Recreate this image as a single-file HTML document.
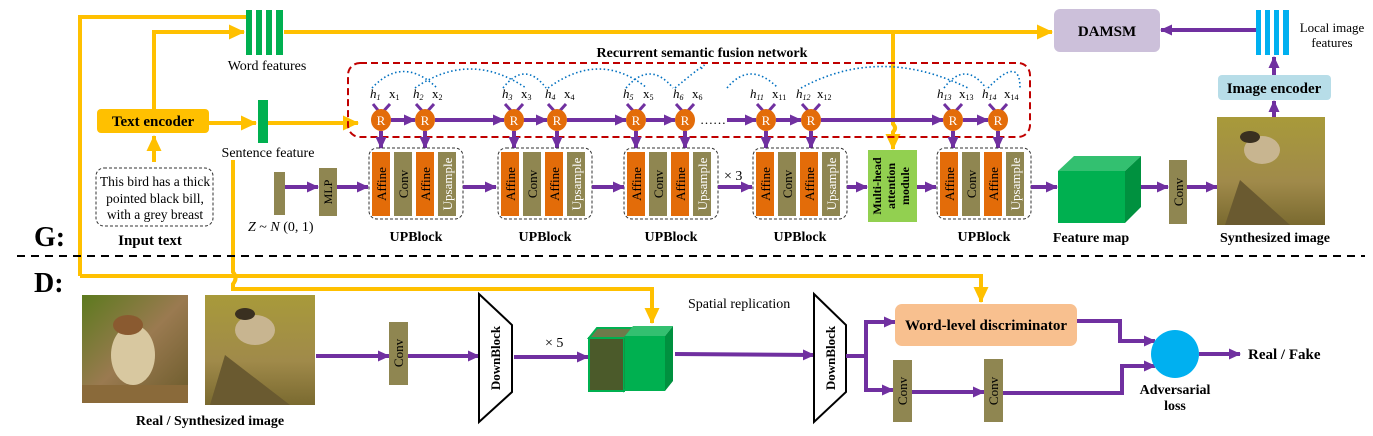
<!DOCTYPE html>
<html><head><meta charset="utf-8"><style>
html,body{margin:0;padding:0;background:#fff;}
svg{display:block;font-family:"Liberation Serif",serif;}
.b{font-weight:bold;}
</style></head><body>
<svg width="1373" height="436" viewBox="0 0 1373 436" xmlns="http://www.w3.org/2000/svg">
<defs>
<marker id="pa" markerWidth="12" markerHeight="11" refX="11" refY="5.5" orient="auto" markerUnits="userSpaceOnUse" viewBox="0 0 12 11"><path d="M0,0L12,5.5L0,11z" fill="#7030a0"/></marker>
<marker id="ya" markerWidth="16" markerHeight="15" refX="15" refY="7.5" orient="auto" markerUnits="userSpaceOnUse" viewBox="0 0 16 15"><path d="M0,0L16,7.5L0,15z" fill="#ffc000"/></marker>
<linearGradient id="g1" x1="0" y1="0" x2="1" y2="1"><stop offset="0" stop-color="#5c7a1e"/><stop offset="0.5" stop-color="#9a7a50"/><stop offset="1" stop-color="#6a5a2a"/></linearGradient>
<linearGradient id="g2" x1="0" y1="0" x2="0" y2="1"><stop offset="0" stop-color="#a89a3a"/><stop offset="0.6" stop-color="#a08a4a"/><stop offset="1" stop-color="#7a6a30"/></linearGradient>
</defs>
<style>
.pl{stroke:#7030a0;stroke-width:4;fill:none;}
.yl{stroke:#ffc000;stroke-width:4;fill:none;}
.ol{fill:#8f8651;}
.or{fill:#e36c09;}
</style>

<!-- yellow lines -->
<path class="yl" d="M80,276 L80,17 L246,17"/>
<path class="yl" d="M154,109 L154,32 L244,32" marker-end="url(#ya)"/>
<path class="yl" d="M284,32 L1052,32" marker-end="url(#ya)"/>
<path class="yl" d="M893,32 L893,124 Q897,128 893,132 L893,149" marker-end="url(#ya)"/>
<path class="yl" d="M154,162 L154,136" marker-end="url(#ya)"/>
<path class="yl" d="M209,123 L256,123" marker-end="url(#ya)"/>
<path class="yl" d="M268,123 L358,123" marker-end="url(#ya)"/>
<path class="yl" d="M80,276 L981,276 L981,302" marker-end="url(#ya)"/>
<path class="yl" d="M233,160 L233,272 Q238,278 233,284 L233,289 L652,289 L652,323" marker-end="url(#ya)"/>

<!-- word features -->
<g fill="#00b050"><rect x="246" y="10" width="6" height="45"/><rect x="256" y="10" width="6" height="45"/><rect x="266" y="10" width="6" height="45"/><rect x="276" y="10" width="7" height="45"/></g>
<text x="267" y="70" font-size="14" text-anchor="middle">Word features</text>
<rect x="258" y="100" width="10" height="43" fill="#00b050"/>
<text x="268" y="157" font-size="14" text-anchor="middle">Sentence feature</text>
<rect x="97" y="109" width="112" height="24" rx="4" fill="#ffc000"/>
<text x="153" y="126" font-size="15" class="b" text-anchor="middle">Text encoder</text>
<rect x="96" y="168" width="117" height="58" rx="8" fill="none" stroke="#333" stroke-dasharray="3,2"/>
<text font-size="13.5" text-anchor="middle"><tspan x="155" y="186">This bird has a thick</tspan><tspan x="155" y="203">pointed black bill,</tspan><tspan x="155" y="219">with a grey breast</tspan></text>
<text x="150" y="245" font-size="15" class="b" text-anchor="middle">Input text</text>
<text x="34" y="246" font-size="28" class="b">G:</text>

<!-- Z, MLP -->
<rect x="274" y="172" width="11" height="43" class="ol"/>
<text x="248" y="231" font-size="14"><tspan font-style="italic">Z</tspan> ~ <tspan font-style="italic">N</tspan> (0, 1)</text>
<path class="pl" d="M285,187 L318,187" marker-end="url(#pa)"/>
<rect x="319" y="168" width="18" height="48" class="ol"/>
<text transform="translate(332,192) rotate(-90)" font-size="12" text-anchor="middle">MLP</text>
<path class="pl" d="M337,187 L368,187" marker-end="url(#pa)"/>

<!-- RSFN -->
<text x="702" y="57" font-size="14" class="b" text-anchor="middle">Recurrent semantic fusion network</text>
<rect x="348" y="63" width="682" height="74" rx="12" fill="none" stroke="#c00000" stroke-width="2" stroke-dasharray="7,4"/>
<g fill="none" stroke="#0070c0" stroke-width="1.6" stroke-dasharray="1.5,2.5">
<path d="M372,88 Q403,55 437,88"/><path d="M415,88 Q470,50 526,88"/>
<path d="M503,88 Q525,60 546,88"/><path d="M548,88 Q600,50 647,88"/>
<path d="M626,88 Q650,60 673,88"/><path d="M675,88 Q715,55 700,70"/>
<path d="M727,88 Q750,60 778,88"/><path d="M801,88 Q880,45 968,88"/>
<path d="M944,88 Q965,60 986,88"/><path d="M988,88 Q1020,55 1020,88"/>
</g>
<g font-size="13">
<text x="370" y="98" font-style="italic">h<tspan font-size="8" dy="2">1</tspan></text><text x="389" y="98">x<tspan font-size="8" dy="2">1</tspan></text>
<text x="413" y="98" font-style="italic">h<tspan font-size="8" dy="2">2</tspan></text><text x="432" y="98">x<tspan font-size="8" dy="2">2</tspan></text>
<text x="502" y="98" font-style="italic">h<tspan font-size="8" dy="2">3</tspan></text><text x="521" y="98">x<tspan font-size="8" dy="2">3</tspan></text>
<text x="545" y="98" font-style="italic">h<tspan font-size="8" dy="2">4</tspan></text><text x="564" y="98">x<tspan font-size="8" dy="2">4</tspan></text>
<text x="623" y="98" font-style="italic">h<tspan font-size="8" dy="2">5</tspan></text><text x="643" y="98">x<tspan font-size="8" dy="2">5</tspan></text>
<text x="673" y="98" font-style="italic">h<tspan font-size="8" dy="2">6</tspan></text><text x="692" y="98">x<tspan font-size="8" dy="2">6</tspan></text>
<text x="750" y="98" font-style="italic">h<tspan font-size="8" dy="2">11</tspan></text><text x="772" y="98">x<tspan font-size="8" dy="2">11</tspan></text>
<text x="796" y="98" font-style="italic">h<tspan font-size="8" dy="2">12</tspan></text><text x="817" y="98">x<tspan font-size="8" dy="2">12</tspan></text>
<text x="937" y="98" font-style="italic">h<tspan font-size="8" dy="2">13</tspan></text><text x="959" y="98">x<tspan font-size="8" dy="2">13</tspan></text>
<text x="982" y="98" font-style="italic">h<tspan font-size="8" dy="2">14</tspan></text><text x="1004" y="98">x<tspan font-size="8" dy="2">14</tspan></text>
</g>
<g stroke="#7030a0" stroke-width="3">
<path d="M373,104L381,114M390,104L381,114M416,104L425,114M434,104L425,114"/>
<path d="M505,104L514,114M523,104L514,114M548,104L557,114M566,104L557,114"/>
<path d="M627,104L636,114M645,104L636,114M676,104L685,114M694,104L685,114"/>
<path d="M757,104L766,114M775,104L766,114M802,104L811,114M820,104L811,114"/>
<path d="M944,104L953,114M962,104L953,114M989,104L998,114M1007,104L998,114"/>
</g>
<g class="pl">
<path d="M391,120L415,120" marker-end="url(#pa)"/><path d="M435,120L504,120" marker-end="url(#pa)"/>
<path d="M567,120L626,120" marker-end="url(#pa)"/><path d="M523,120L547,120" marker-end="url(#pa)"/>
<path d="M646,120L675,120" marker-end="url(#pa)"/><path d="M727,120L756,120" marker-end="url(#pa)"/>
<path d="M776,120L801,120" marker-end="url(#pa)"/><path d="M821,120L943,120" marker-end="url(#pa)"/>
<path d="M963,120L988,120" marker-end="url(#pa)"/>
</g>
<text x="700" y="124" font-size="13">……</text>
<g fill="#e36c09">
<ellipse cx="381" cy="120" rx="10" ry="11"/><ellipse cx="425" cy="120" rx="10" ry="11"/>
<ellipse cx="514" cy="120" rx="10" ry="11"/><ellipse cx="557" cy="120" rx="10" ry="11"/>
<ellipse cx="636" cy="120" rx="10" ry="11"/><ellipse cx="685" cy="120" rx="10" ry="11"/>
<ellipse cx="766" cy="120" rx="10" ry="11"/><ellipse cx="811" cy="120" rx="10" ry="11"/>
<ellipse cx="953" cy="120" rx="10" ry="11"/><ellipse cx="998" cy="120" rx="10" ry="11"/>
</g>
<g fill="#fff" font-size="13" text-anchor="middle">
<text x="381" y="125">R</text><text x="425" y="125">R</text><text x="514" y="125">R</text><text x="557" y="125">R</text>
<text x="636" y="125">R</text><text x="685" y="125">R</text><text x="766" y="125">R</text><text x="811" y="125">R</text>
<text x="953" y="125">R</text><text x="998" y="125">R</text>
</g>
<g class="pl" stroke-width="3">
<path d="M381,131L381,148" marker-end="url(#pa)"/><path d="M425,131L425,148" marker-end="url(#pa)"/>
<path d="M514,131L514,148" marker-end="url(#pa)"/><path d="M557,131L557,148" marker-end="url(#pa)"/>
<path d="M636,131L636,148" marker-end="url(#pa)"/><path d="M685,131L685,148" marker-end="url(#pa)"/>
<path d="M766,131L766,148" marker-end="url(#pa)"/><path d="M811,131L811,148" marker-end="url(#pa)"/>
<path d="M953,131L953,148" marker-end="url(#pa)"/><path d="M998,131L998,148" marker-end="url(#pa)"/>
</g>

<!-- UPBlocks -->
<g id="ub">
<rect x="369" y="148" width="94" height="71" rx="8" fill="none" stroke="#333" stroke-dasharray="3,2"/>
<rect x="372" y="152" width="18" height="64" class="or"/>
<rect x="394" y="152" width="18" height="64" class="ol"/>
<rect x="416" y="152" width="18" height="64" class="or"/>
<rect x="438" y="152" width="18" height="64" class="ol"/>
<g font-size="13" text-anchor="middle">
<text transform="translate(386,184) rotate(-90)">Affine</text>
<text transform="translate(408,184) rotate(-90)">Conv</text>
<text transform="translate(430,184) rotate(-90)">Affine</text>
<text transform="translate(452,184) rotate(-90)" fill="#fff">Upsample</text>
</g>
<text x="416" y="241" font-size="14" class="b" text-anchor="middle">UPBlock</text>
</g>
<use href="#ub" x="129"/><use href="#ub" x="255"/><use href="#ub" x="384"/><use href="#ub" x="568"/>
<g class="pl">
<path d="M463,187L496,187" marker-end="url(#pa)"/><path d="M592,187L624,187" marker-end="url(#pa)"/>
<path d="M718,187L752,187" marker-end="url(#pa)"/><path d="M847,187L867,187" marker-end="url(#pa)"/>
<path d="M917,187L936,187" marker-end="url(#pa)"/><path d="M1031,187L1057,187" marker-end="url(#pa)"/>
<path d="M1125,187L1168,187" marker-end="url(#pa)"/><path d="M1187,187L1217,187" marker-end="url(#pa)"/>
</g>
<text x="724" y="180" font-size="14">× 3</text>
<rect x="868" y="150" width="49" height="72" fill="#92d050"/>
<g font-size="12" class="b" text-anchor="middle">
<text transform="translate(881,186) rotate(-90)">Multi-head</text>
<text transform="translate(895,186) rotate(-90)">attention</text>
<text transform="translate(909,186) rotate(-90)">module</text>
</g>

<!-- feature map -->
<path d="M1058,171 L1074,156 L1141,156 L1125,171z" fill="#33c070"/>
<path d="M1125,171 L1141,156 L1141,207 L1125,223z" fill="#00913f"/>
<rect x="1058" y="171" width="67" height="52" fill="#00b050"/>
<text x="1091" y="242" font-size="14" class="b" text-anchor="middle">Feature map</text>
<rect x="1169" y="160" width="18" height="64" class="ol"/>
<text transform="translate(1183,192) rotate(-90)" font-size="13" text-anchor="middle">Conv</text>
<rect x="1217" y="117" width="108" height="108" fill="url(#g2)"/>
<ellipse cx="1262" cy="150" rx="18" ry="14" fill="#c8b590"/>
<ellipse cx="1250" cy="137" rx="10" ry="6" fill="#3a3020"/>
<path d="M1225,225 L1240,180 L1290,225z" fill="#6a5a30"/>
<text x="1275" y="242" font-size="14" class="b" text-anchor="middle">Synthesized image</text>
<path class="pl" d="M1274,117L1274,101" marker-end="url(#pa)"/>
<rect x="1218" y="75" width="113" height="25" rx="4" fill="#b7dde8"/>
<text x="1274" y="93" font-size="15" class="b" text-anchor="middle">Image encoder</text>
<path class="pl" d="M1274,75L1274,57" marker-end="url(#pa)"/>
<g fill="#00b0f0"><rect x="1256" y="10" width="5" height="45"/><rect x="1265" y="10" width="5" height="45"/><rect x="1274" y="10" width="5" height="45"/><rect x="1283" y="10" width="6" height="45"/></g>
<text x="1332" y="32" font-size="13" text-anchor="middle">Local image</text>
<text x="1332" y="47" font-size="13" text-anchor="middle">features</text>
<path class="pl" d="M1256,30L1161,30" marker-end="url(#pa)"/>
<rect x="1054" y="9" width="106" height="43" rx="6" fill="#ccc0da"/>
<text x="1107" y="36" font-size="15" class="b" text-anchor="middle">DAMSM</text>

<!-- separator -->
<line x1="17" y1="256" x2="1365" y2="256" stroke="#000" stroke-width="2" stroke-dasharray="8,6"/>
<text x="34" y="292" font-size="28" class="b">D:</text>

<!-- D -->
<rect x="82" y="295" width="106" height="108" fill="url(#g1)"/>
<ellipse cx="133" cy="355" rx="22" ry="30" fill="#d8c8a0"/>
<ellipse cx="128" cy="325" rx="15" ry="10" fill="#8a5a30"/>
<rect x="82" y="385" width="106" height="18" fill="#8a6a3a"/>
<rect x="205" y="295" width="110" height="110" fill="url(#g2)"/>
<ellipse cx="255" cy="330" rx="20" ry="15" fill="#c8b590"/>
<ellipse cx="245" cy="314" rx="10" ry="6" fill="#3a3020"/>
<path d="M210,405 L225,355 L290,405z" fill="#6a5a30"/>
<text x="210" y="425" font-size="14" class="b" text-anchor="middle">Real / Synthesized image</text>
<path class="pl" d="M316,356L389,356" marker-end="url(#pa)"/>
<rect x="389" y="322" width="19" height="63" class="ol"/>
<text transform="translate(403,353) rotate(-90)" font-size="13" text-anchor="middle">Conv</text>
<path class="pl" d="M408,356L479,356" marker-end="url(#pa)"/>
<path d="M479,294 L512,325 L512,392 L479,422z" fill="#fff" stroke="#000" stroke-width="2"/>
<text transform="translate(500,358) rotate(-90)" font-size="13" class="b" text-anchor="middle">DownBlock</text>
<path class="pl" d="M514,357L588,357" marker-end="url(#pa)"/>
<text x="545" y="347" font-size="14">× 5</text>
<path d="M589,338 L597,328 L633,328 L625,338z" fill="#6e7a4a" stroke="#00b050" stroke-width="2"/>
<rect x="589" y="338" width="35" height="53" fill="#4b5a2a" stroke="#00b050" stroke-width="2"/>
<path d="M624,338 L633,328 L633,382 L624,391z" fill="#3d4a20" stroke="#00b050" stroke-width="1.5"/>
<path d="M625,336 L633,326 L673,326 L665,336z" fill="#33c070"/>
<rect x="625" y="336" width="40" height="55" fill="#00b050"/>
<path d="M665,336 L673,326 L673,381 L665,391z" fill="#00913f"/>
<text x="688" y="308" font-size="14">Spatial replication</text>
<path class="pl" d="M675,354L814,355" marker-end="url(#pa)"/>
<path d="M814,294 L846,325 L846,392 L814,422z" fill="#fff" stroke="#000" stroke-width="2"/>
<text transform="translate(835,358) rotate(-90)" font-size="13" class="b" text-anchor="middle">DownBlock</text>
<path class="pl" d="M846,356L866,356 M866,322L866,391"/>
<path class="pl" d="M864,322L895,322" marker-end="url(#pa)"/>
<path class="pl" d="M864,390L893,390" marker-end="url(#pa)"/>
<rect x="895" y="304" width="182" height="42" rx="7" fill="#f8c08f"/>
<text x="986" y="330" font-size="15" class="b" text-anchor="middle">Word-level discriminator</text>
<rect x="893" y="360" width="19" height="62" class="ol"/>
<text transform="translate(907,391) rotate(-90)" font-size="13" text-anchor="middle">Conv</text>
<path class="pl" d="M912,392L984,392" marker-end="url(#pa)"/>
<rect x="984" y="359" width="19" height="63" class="ol"/>
<text transform="translate(998,391) rotate(-90)" font-size="13" text-anchor="middle">Conv</text>
<path class="pl" d="M1003,393L1122,393L1122,366L1155,366" marker-end="url(#pa)"/>
<path class="pl" d="M1077,321L1120,321L1120,341L1155,341" marker-end="url(#pa)"/>
<circle cx="1175" cy="354" r="24" fill="#00b0f0"/>
<path class="pl" d="M1199,354L1240,354" marker-end="url(#pa)"/>
<text x="1248" y="359" font-size="15" class="b">Real / Fake</text>
<text x="1175" y="394" font-size="14" class="b" text-anchor="middle">Adversarial</text>
<text x="1175" y="410" font-size="14" class="b" text-anchor="middle">loss</text>
</svg>
</body></html>
